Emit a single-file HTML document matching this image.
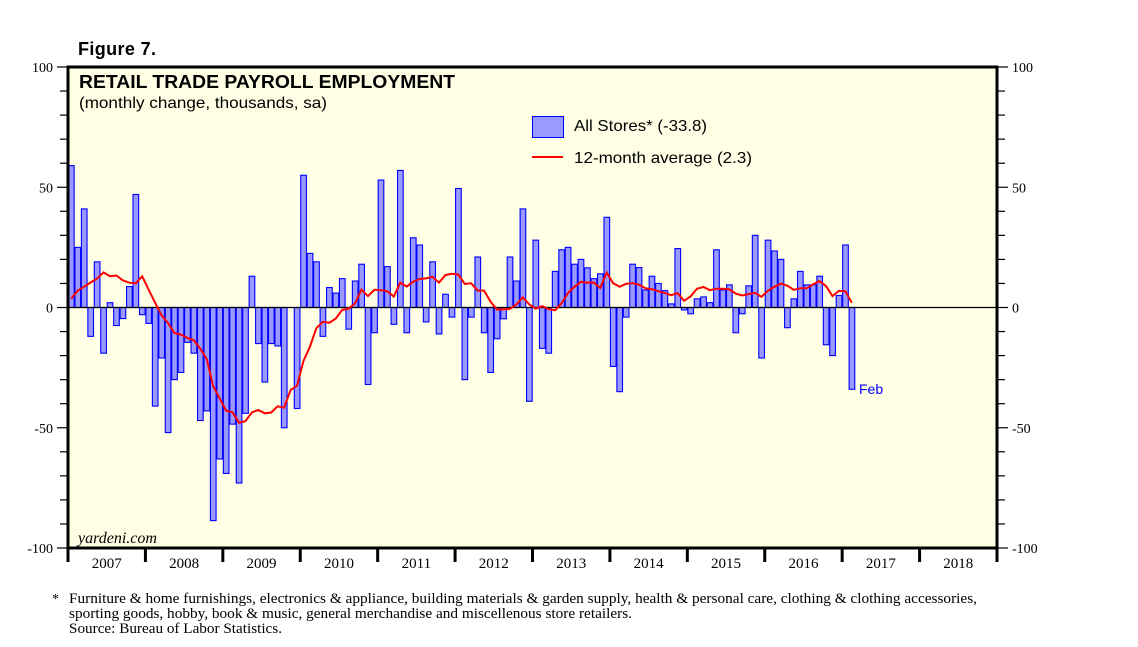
<!DOCTYPE html>
<html><head><meta charset="utf-8"><style>
body{margin:0;background:#fff;}
svg{display:block;font-family:"Liberation Sans",sans-serif;}
.serif{font-family:"Liberation Serif",serif;}
</style></head><body>
<svg id="chart" width="1138" height="647" viewBox="0 0 1138 647">
<rect x="68" y="67" width="929" height="481" fill="#FFFFE5"/>
<g id="ticks"></g>
<g id="bars"></g>
<line x1="68" x2="997" y1="307.5" y2="307.5" stroke="#000" stroke-width="1.2"/>
<path id="avg" fill="none" stroke="#FF0000" stroke-width="2"/>
<rect x="68" y="67" width="929" height="481" fill="none" stroke="#000" stroke-width="3"/>
<text x="78" y="55" font-size="18" font-weight="bold" textLength="78">Figure 7.</text>
<text x="79" y="88" font-size="18.5" font-weight="bold" textLength="376" lengthAdjust="spacingAndGlyphs">RETAIL TRADE PAYROLL EMPLOYMENT</text>
<text x="79" y="108" font-size="16" textLength="248" lengthAdjust="spacingAndGlyphs">(monthly change, thousands, sa)</text>
<rect x="532.5" y="116.5" width="31" height="21" fill="#9999FF" stroke="#0000FF" stroke-width="1"/>
<text x="574" y="131" font-size="16" textLength="133" lengthAdjust="spacingAndGlyphs">All Stores* (-33.8)</text>
<line x1="532" x2="563" y1="157" y2="157" stroke="#FF0000" stroke-width="2"/>
<text x="574" y="163" font-size="16" textLength="178" lengthAdjust="spacingAndGlyphs">12-month average (2.3)</text>
<text x="859" y="394" font-size="14" fill="#0000FF">Feb</text>
<text x="78" y="543" font-size="16" font-style="italic" class="serif">yardeni.com</text>
<g class="serif" font-size="15" fill="#000">
<text x="52" y="603" font-size="14">*</text>
<text x="69" y="603" textLength="908" lengthAdjust="spacingAndGlyphs">Furniture &amp; home furnishings, electronics &amp; appliance, building materials &amp; garden supply, health &amp; personal care, clothing &amp; clothing accessories,</text>
<text x="69" y="618" textLength="563" lengthAdjust="spacingAndGlyphs">sporting goods, hobby, book &amp; music, general merchandise and miscellenous store retailers.</text>
<text x="69" y="633" textLength="213" lengthAdjust="spacingAndGlyphs">Source: Bureau of Labor Statistics.</text>
</g>
</svg>
<script>
const values = [59,25,41,-12,19,-19,2,-7.5,-4.6,8.7,47,-3,
-6.6,-41,-21,-52,-30,-27,-14.5,-19,-47,-43,-88.6,-63,
-69,-48.5,-73,-44,13,-15,-31,-15,-16,-50,0,-42,
55,22.5,19,-12,8.3,6,12,-9,11,18,-32,-10.5,
53,17,-7,57,-10.5,29,26,-6,19,-11,5.5,-4,
49.5,-30,-4,21,-10.5,-27,-13,-4.7,21,11,41,-39,
28,-17,-19,15,24,25,18,20,16.5,12,14,37.5,
-24.5,-35,-4,18,16.6,7.3,13,10,7,1.5,24.5,-1,
-2.6,3.6,4.4,2,24,7.3,9.4,-10.5,-2.6,9,30,-21,
28,23.5,20,-8.4,3.6,15,9.4,9.4,13,-15.5,-20,5,
26,-34];
const earlyAvg = [3.7,7,8.6,10.4,12,14.6,13,13.3,11.3,10.3,10];
const years = ['2007','2008','2009','2010','2011','2012','2013','2014','2015','2016','2017','2018'];
const yTicks = [-100,-50,0,50,100];
const X0=68, X1=997, Y0=67, Y1=548, NM=144;
const mw=(X1-X0)/NM;
function xs(i){return X0+i*mw;}
function ys(v){return 307.5 - v*(Y1-Y0)/200;}
const NS='http://www.w3.org/2000/svg';
function mk(tag,attrs,parent){const e=document.createElementNS(NS,tag);for(const k in attrs)e.setAttribute(k,attrs[k]);parent.appendChild(e);return e;}
const tg=document.getElementById('ticks');
for(let v=-100;v<=100;v+=10){
  const y=ys(v);const big=v%50===0;
  const l=mk('line',{x1:big?57:60,x2:68,y1:y,y2:y,stroke:'#000','stroke-width':1.2},tg);
  
  
  const r=mk('line',{x1:997,x2:big?1008:1005,y1:y,y2:y,stroke:'#000','stroke-width':1.2},tg);
  
  
}
yTicks.forEach(v=>{
  const y=ys(v)+5;
  const a=mk('text',{x:53,y:y,'text-anchor':'end','font-size':14,'font-family':'Liberation Serif, serif'},tg);a.textContent=v;
  
  
  const b=mk('text',{x:1012,y:y,'font-size':14,'font-family':'Liberation Serif, serif'},tg);b.textContent=(v<0?'':' ')+v;
  
  
});
for(let k=0;k<=years.length;k++){
  const x=xs(k*12);
  const t=mk('line',{x1:x,x2:x,y1:548,y2:562,stroke:'#000','stroke-width':3},tg);
  
  
  if(k<years.length){
    const lb=mk('text',{x:xs(k*12+6),y:568,'text-anchor':'middle','font-size':15,'font-family':'Liberation Serif, serif'},tg);
    lb.textContent=years[k];
    
    
  }
}
const bg=document.getElementById('bars');
values.forEach((v,i)=>{
  const x=xs(i)+0.5, w=mw-0.8;
  const y=Math.min(ys(v),ys(0)), h=Math.abs(ys(v)-ys(0));
  const b=mk('rect',{x:x,y:y,width:w,height:h,fill:'#9999FF',stroke:'#0000FF','stroke-width':1.1},bg);
  
  
});
let d='';
for(let i=0;i<values.length;i++){
  let a;
  if(i<earlyAvg.length) a=earlyAvg[i];
  else {let s=0;for(let j=i-11;j<=i;j++)s+=values[j];a=s/12;}
  d+=(i?'L':'M')+(xs(i)+mw/2).toFixed(1)+','+ys(a).toFixed(1);
}
document.getElementById('avg').setAttribute('d',d);
</script>
</body></html>
